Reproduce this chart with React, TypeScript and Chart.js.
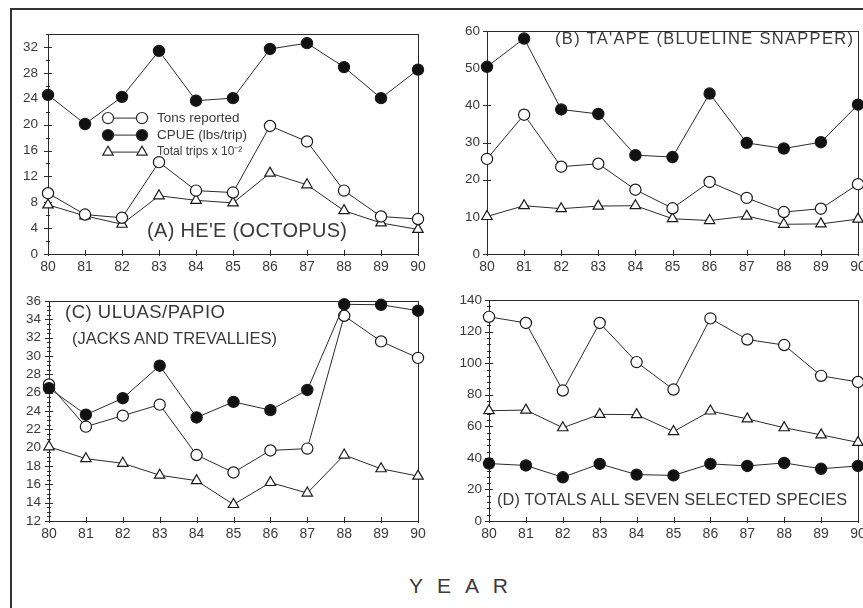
import React, { useEffect, useLayoutEffect, useRef } from "react";
import { Chart, registerables } from "chart.js";

Chart.register(...registerables);

// ---------------- DATA ----------------
const years = ["80", "81", "82", "83", "84", "85", "86", "87", "88", "89", "90"];

// (A) He'e (octopus)
const heCpue = [24.6, 20.1, 24.3, 31.4, 23.7, 24.1, 31.7, 32.6, 28.9, 24.1, 28.5];
const heTons = [9.4, 6.1, 5.6, 14.2, 9.8, 9.5, 19.8, 17.4, 9.8, 5.8, 5.4];
const heTrips = [7.6, 5.9, 4.6, 9.0, 8.3, 7.9, 12.5, 10.7, 6.7, 4.8, 3.8];
const heTicks = [0, 4, 8, 12, 16, 20, 24, 28, 32];

// (B) Ta'ape (blueline snapper)
const taapeCpue = [50.4, 58.0, 38.9, 37.7, 26.6, 26.1, 43.2, 29.9, 28.4, 30.1, 40.2];
const taapeTons = [25.6, 37.5, 23.5, 24.3, 17.3, 12.3, 19.4, 15.1, 11.3, 12.2, 18.8];
const taapeTrips = [10.1, 13.0, 12.2, 12.9, 13.0, 9.5, 9.0, 10.2, 8.0, 8.1, 9.4];
const taapeTicks = [0, 10, 20, 30, 40, 50, 60];

// (C) Uluas/Papio (jacks and trevallies)
const uluaCpue = [26.5, 23.6, 25.4, 28.95, 23.3, 25.0, 24.1, 26.3, 35.65, 35.6, 34.95];
const uluaTons = [26.9, 22.3, 23.5, 24.7, 19.2, 17.3, 19.7, 19.9, 34.4, 31.6, 29.8];
const uluaTrips = [20.1, 18.8, 18.3, 17.0, 16.4, 13.8, 16.2, 15.05, 19.2, 17.7, 16.9];
const uluaTicks = [12, 14, 16, 18, 20, 22, 24, 26, 28, 30, 32, 34, 36];

// (D) Totals all seven selected species
const totalCpue = [36.4, 35.2, 27.7, 36.2, 29.4, 28.9, 36.2, 34.9, 36.8, 33.1, 34.9];
const totalTons = [129.4, 125.5, 82.7, 125.5, 100.7, 83.3, 128.4, 115.0, 111.5, 92.0, 88.1];
const totalTrips = [69.9, 70.3, 59.1, 67.6, 67.4, 56.7, 69.7, 64.7, 59.1, 54.6, 49.8];
const totalTicks = [0, 20, 40, 60, 80, 100, 120, 140];

const seriesLabels = ["CPUE (lbs/trip)", "Tons reported", "Total trips x 10⁻²"];

// ---------------- STYLE ----------------
const FONT = '"Liberation Sans", Arial, sans-serif';
const INK = "#2a2a2a";
const TEXT = "#3a3a3a";
const YW = 40;
const PT = 10;
const PR = 24;
const XH = 28;

const markerStyles = [
  { pointStyle: "circle", pointRadius: 5.6, pointBackgroundColor: "#111" },
  { pointStyle: "circle", pointRadius: 5.6, pointBackgroundColor: "#fff" },
  { pointStyle: "triangle", pointRadius: 6, pointBackgroundColor: "#fff" },
];

const framePlugin = {
  id: "frame",
  beforeDatasetsDraw(chart: any) {
    const { ctx, chartArea: a, scales } = chart;
    const minor = chart.$minorStep as number;
    const y = scales.y;
    const x = scales.x;
    ctx.save();
    ctx.strokeStyle = INK;
    ctx.lineWidth = 1;
    ctx.strokeRect(Math.round(a.left) + 0.5, Math.round(a.top) + 0.5, Math.round(a.right - a.left), Math.round(a.bottom - a.top));
    ctx.beginPath();
    const majors = y.ticks.map((t: any) => t.value);
    majors.forEach((v: number) => {
      const py = Math.round(y.getPixelForValue(v)) + 0.5;
      ctx.moveTo(a.left - 4, py);
      ctx.lineTo(a.left + 4, py);
    });
    if (minor) {
      for (let v = y.min; v <= y.max + 1e-9; v += minor) {
        if (majors.some((m: number) => Math.abs(m - v) < 1e-6)) continue;
        const py = Math.round(y.getPixelForValue(v)) + 0.5;
        ctx.moveTo(a.left - 2, py);
        ctx.lineTo(a.left + 2, py);
      }
    }
    for (let i = 0; i < years.length; i++) {
      const px = Math.round(x.getPixelForValue(i)) + 0.5;
      ctx.moveTo(px, a.bottom - 4);
      ctx.lineTo(px, a.bottom + 2);
    }
    ctx.stroke();
    ctx.restore();
  },
};

function drawMarker(ctx: CanvasRenderingContext2D, kind: number, x: number, y: number) {
  ctx.beginPath();
  if (kind === 2) {
    const r = 6;
    for (let k = 0; k < 3; k++) {
      const ang = (k * 2 * Math.PI) / 3;
      const px = x + Math.sin(ang) * r;
      const py = y - Math.cos(ang) * r;
      if (k === 0) ctx.moveTo(px, py);
      else ctx.lineTo(px, py);
    }
    ctx.closePath();
  } else {
    ctx.arc(x, y, 5.6, 0, Math.PI * 2);
  }
  ctx.fillStyle = kind === 0 ? "#111" : "#fff";
  ctx.fill();
  ctx.stroke();
}

const keyPlugin = {
  id: "seriesKey",
  afterDatasetsDraw(chart: any) {
    if (!chart.$showKey) return;
    const { ctx, chartArea: a } = chart;
    const rows = [
      { kind: 1, dy: 84, size: 13.5 },
      { kind: 0, dy: 101, size: 13.5 },
      { kind: 2, dy: 118, size: 12 },
    ];
    ctx.save();
    rows.forEach((r) => {
      const y = a.top + r.dy;
      const x1 = a.left + 60;
      const x2 = a.left + 94;
      ctx.strokeStyle = INK;
      ctx.lineWidth = 1;
      ctx.beginPath();
      ctx.moveTo(x1, y);
      ctx.lineTo(x2, y);
      ctx.stroke();
      ctx.lineWidth = 1.2;
      drawMarker(ctx, r.kind, x1, y);
      drawMarker(ctx, r.kind, x2, y);
      ctx.fillStyle = TEXT;
      ctx.font = `${r.size}px ${FONT}`;
      ctx.textBaseline = "middle";
      ctx.textAlign = "left";
      ctx.fillText(seriesLabels[r.kind], a.left + 109, y);
    });
    ctx.restore();
  },
};

type PanelProps = {
  left: number;
  top: number;
  areaW: number;
  areaH: number;
  min: number;
  max: number;
  ticks: number[];
  minor: number;
  series: number[][];
  labelPad: number;
  showKey?: boolean;
};

function Panel(p: PanelProps) {
  const ref = useRef<HTMLCanvasElement>(null);
  useEffect(() => {
    if (!ref.current) return;
    const chart: any = new Chart(ref.current, {
      type: "line",
      data: {
        labels: years,
        datasets: p.series.map((d, i) => ({
          label: seriesLabels[i],
          data: d,
          borderColor: INK,
          borderWidth: 1,
          pointBorderColor: "#1a1a1a",
          pointBorderWidth: 1.2,
          tension: 0,
          clip: false as any,
          ...markerStyles[i],
        })) as any,
      },
      options: {
        responsive: true,
        maintainAspectRatio: false,
        animation: false,
        layout: { padding: { left: 0, top: PT, right: PR, bottom: 0 } },
        plugins: { legend: { display: false }, tooltip: { enabled: false } },
        scales: {
          x: {
            type: "category",
            offset: false,
            grid: { display: false, drawTicks: false },
            border: { display: false },
            ticks: { padding: 5, color: TEXT, font: { family: FONT, size: 14 }, maxRotation: 0, autoSkip: false },
            afterFit: (s: any) => {
              s.height = XH;
            },
          },
          y: {
            type: "linear",
            min: p.min,
            max: p.max,
            grid: { display: false, drawTicks: false },
            border: { display: false },
            ticks: { padding: p.labelPad, color: TEXT, font: { family: FONT, size: 13.5 }, autoSkip: false },
            afterBuildTicks: (s: any) => {
              s.ticks = p.ticks.map((v) => ({ value: v }));
            },
            afterFit: (s: any) => {
              s.width = YW;
            },
          },
        },
      } as any,
      plugins: [
        {
          id: "cfg",
          beforeInit(c: any) {
            c.$minorStep = p.minor;
            c.$showKey = !!p.showKey;
          },
        },
        framePlugin,
        keyPlugin,
      ],
    });
    return () => chart.destroy();
  }, []);
  return (
    <div
      style={{
        position: "absolute",
        left: p.left - YW,
        top: p.top - PT,
        width: p.areaW + YW + PR,
        height: p.areaH + PT + XH,
      }}
    >
      <canvas ref={ref} />
    </div>
  );
}

function FitText(props: { text: string; left: number; top: number; size: number; width: number }) {
  const ref = useRef<HTMLDivElement>(null);
  useLayoutEffect(() => {
    const el = ref.current;
    if (!el) return;
    el.style.letterSpacing = "0px";
    const w = el.getBoundingClientRect().width;
    const n = Array.from(props.text).length;
    el.style.letterSpacing = `${(props.width - w) / (n - 1)}px`;
  }, []);
  return (
    <div
      ref={ref}
      style={{
        position: "absolute",
        left: props.left,
        top: props.top,
        fontSize: props.size,
        fontFamily: FONT,
        color: TEXT,
        lineHeight: 1,
        whiteSpace: "nowrap",
      }}
    >
      {props.text}
    </div>
  );
}

export default function App() {
  return (
    <div
      style={{
        position: "fixed",
        left: 0,
        top: 0,
        width: 863,
        height: 608,
        overflow: "hidden",
        background: "#fff",
      }}
    >
      <div
        style={{
          position: "absolute",
          left: 10,
          top: 8,
          width: 900,
          height: 700,
          borderTop: "2px solid #333",
          borderLeft: "2px solid #333",
        }}
      />
      <Panel left={48} top={26} areaW={370} areaH={228} min={0} max={34} ticks={heTicks} minor={2} labelPad={10}
        series={[heCpue, heTons, heTrips]} showKey />
      <Panel left={487} top={26} areaW={371} areaH={228} min={0} max={60} ticks={taapeTicks} minor={0} labelPad={7}
        series={[taapeCpue, taapeTons, taapeTrips]} />
      <Panel left={49} top={295} areaW={369} areaH={226} min={12} max={36} ticks={uluaTicks} minor={0.5} labelPad={8}
        series={[uluaCpue, uluaTons, uluaTrips]} />
      <Panel left={489} top={295} areaW={369} areaH={226} min={0} max={140} ticks={totalTicks} minor={4} labelPad={7}
        series={[totalCpue, totalTons, totalTrips]} />

      <FitText text="(A) HE'E (OCTOPUS)" left={147} top={220} size={20} width={200} />
      <FitText text="(B) TA'APE (BLUELINE SNAPPER)" left={555} top={29.5} size={16.5} width={298} />
      <FitText text="(C) ULUAS/PAPIO" left={65} top={302.5} size={18.5} width={160} />
      <FitText text="(JACKS AND TREVALLIES)" left={72} top={330} size={16.5} width={205} />
      <FitText text="(D) TOTALS ALL SEVEN SELECTED SPECIES" left={497} top={491} size={16.3} width={350} />
      <FitText text="YEAR" left={409} top={575} size={21} width={99} />
    </div>
  );
}
